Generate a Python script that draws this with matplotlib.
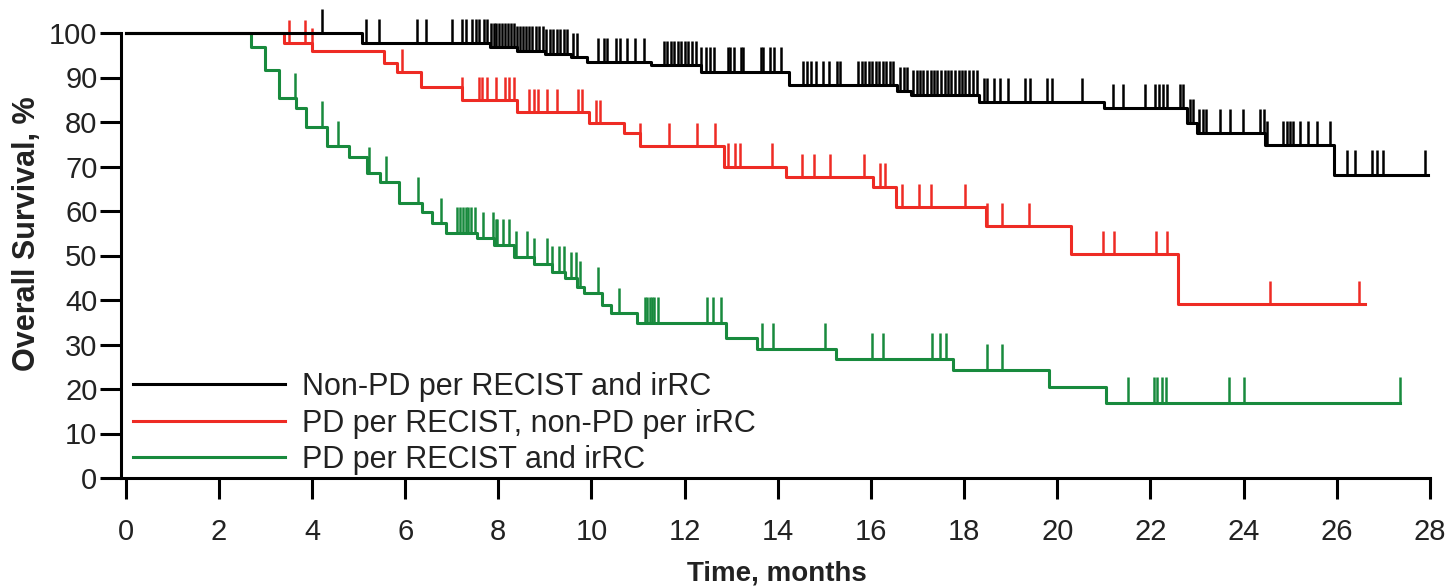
import numpy as np
import matplotlib.pyplot as plt

plt.rcParams['font.family'] = ['Liberation Sans', 'DejaVu Sans']

# ---- values ----
# event times (months) and survival (%) right after each event
black_t = [5.08, 7.83, 8.4, 9.0, 9.55, 9.91, 11.27, 12.34, 14.23, 16.56, 16.85,
           18.31, 21.0, 22.78, 23.0, 24.46, 25.93]
black_s = [97.7, 96.8, 96.0, 95.3, 94.5, 93.4, 92.8, 91.3, 88.3, 86.9, 86.1,
           84.5, 83.1, 79.7, 77.5, 74.8, 68.1]
black_end = 27.95
black_cens = [4.22, 5.15, 5.44, 6.26, 6.44, 7.01, 7.22, 7.3, 7.44, 7.51, 7.58, 7.69, 7.76,
              7.85, 7.9, 7.95, 8.02, 8.08, 8.15, 8.2, 8.27, 8.33, 8.4, 8.46, 8.52, 8.6,
              8.66, 8.72, 8.8, 8.88, 8.95, 9.02, 9.1, 9.18, 9.25, 9.32, 9.4, 9.48, 9.6,
              9.68, 10.15, 10.26, 10.34, 10.52, 10.62, 10.77, 10.94, 11.12,
              11.55, 11.62, 11.7, 11.78, 11.85, 11.92, 12.0, 12.08, 12.15, 12.25, 12.35,
              12.45, 12.55, 12.62, 12.92, 12.98, 13.05, 13.2, 13.26, 13.63, 13.69,
              13.84, 13.92, 14.06, 14.53, 14.62, 14.72, 14.81, 14.98, 15.09, 15.27, 15.34,
              15.73, 15.8, 15.88, 15.95, 16.02, 16.1, 16.18, 16.25, 16.32, 16.4, 16.48,
              16.63, 16.7, 16.78, 16.9, 16.98, 17.05, 17.12, 17.2, 17.28, 17.35, 17.42,
              17.5, 17.58, 17.65, 17.72, 17.8, 17.88, 17.95, 18.02, 18.1, 18.18, 18.27,
              18.42, 18.5, 18.63, 18.78, 18.95, 19.31, 19.42, 19.78, 19.89, 20.53,
              21.2, 21.42, 21.89, 22.1, 22.18, 22.26, 22.35, 22.64, 22.7,
              22.85, 22.92, 23.05, 23.12, 23.2, 23.5, 23.71, 23.99, 24.36, 24.43, 24.5,
              24.85, 24.92, 25.0, 25.06, 25.21, 25.39, 25.57, 25.86,
              26.22, 26.39, 26.75, 26.86, 27.0, 27.9]

red_t = [3.4, 4.0, 5.54, 5.83, 6.33, 7.22, 8.4, 9.94, 10.69, 11.05, 12.85, 14.18,
         16.05, 16.54, 18.46, 20.29, 22.6]
red_s = [97.7, 96.0, 93.2, 91.3, 87.8, 84.9, 82.3, 79.7, 77.5, 74.5, 70.0, 67.6,
         65.5, 60.8, 56.6, 50.3, 39.0]
red_end = 26.6
red_cens = [3.5, 3.86, 4.0, 5.94, 7.22, 7.58, 7.65, 7.76, 7.94, 8.15, 8.23, 8.33, 8.65,
            8.76, 8.86, 9.05, 9.27, 9.7, 9.8, 10.09, 10.19, 11.05, 11.66, 12.26, 12.65,
            12.94, 13.09, 13.18, 13.88, 14.52, 14.77, 15.11, 15.85, 16.2, 16.29, 16.66,
            17.03, 17.28, 18.02, 18.49, 18.81, 19.4, 20.97, 21.22, 22.11, 22.35, 24.57,
            26.47]

green_t = [2.68, 3.0, 3.29, 3.65, 3.88, 4.33, 4.79, 5.19, 5.47, 5.86, 6.37, 6.58, 6.87,
           7.55, 7.9, 8.33, 8.76, 9.16, 9.44, 9.69, 9.83, 10.23, 10.41, 10.98, 12.88,
           13.56, 15.24, 17.77, 19.82, 21.05]
green_s = [96.9, 91.7, 85.3, 83.1, 78.9, 74.5, 72.2, 68.6, 66.6, 61.8, 59.8, 57.2, 55.0,
           53.9, 52.4, 49.7, 48.2, 46.4, 44.9, 43.0, 41.6, 38.9, 37.0, 34.8, 31.4,
           29.1, 26.7, 24.3, 20.4, 16.9]
green_end = 27.36
green_cens = [3.63, 4.22, 4.55, 5.22, 5.58, 6.28, 6.77, 7.12, 7.18, 7.25, 7.3, 7.35, 7.42,
              7.5, 7.68, 7.88, 7.95, 7.98, 8.11, 8.22, 8.37, 8.62, 8.76, 9.05, 9.16, 9.3,
              9.41, 9.55, 9.66, 9.76, 10.15, 10.58, 11.15, 11.2, 11.25, 11.3, 11.35,
              11.42, 12.49, 12.6, 12.77, 13.67, 13.9, 15.02, 16.03, 16.25, 17.32, 17.49,
              17.6, 18.5, 18.81, 21.52, 22.08, 22.15, 22.25, 22.34, 23.69, 24.0, 27.36]

labels = ['Non-PD per RECIST and irRC', 'PD per RECIST, non-PD per irRC',
          'PD per RECIST and irRC']
colors = ['#000000', '#ee2b24', '#188a3d']
x_ticks = list(range(0, 29, 2))
y_ticks = list(range(0, 101, 10))

fig = plt.figure(figsize=(14.53, 5.87), dpi=100)
ax = fig.add_axes([121 / 1453, 109 / 587, 1309 / 1453, 445 / 587])


def km_line(t, s, end, cens, color, label, tick_h):
    t = np.asarray(t)
    s = np.asarray(s)
    xs = np.r_[0, t, end]
    ys = np.r_[100, s, s[-1]]
    ax.step(xs, ys, where='post', color=color, lw=2.2, label=label, clip_on=False)
    lev = np.r_[100, s]
    cy = lev[np.searchsorted(t, cens, side='right')]
    ax.vlines(cens, cy, cy + tick_h, color=color, lw=1.8, clip_on=False)


km_line(green_t, green_s, green_end, green_cens, colors[2], labels[2], 5.8)
km_line(red_t, red_s, red_end, red_cens, colors[1], labels[1], 5.2)
km_line(black_t, black_s, black_end, black_cens, colors[0], labels[0], 5.5)

ax.set_xlim(-0.1, 28)
ax.set_ylim(0, 100)
ax.set_xticks(x_ticks)
ax.set_yticks(y_ticks)
for side in ['top', 'right']:
    ax.spines[side].set_visible(False)
for side in ['left', 'bottom']:
    ax.spines[side].set_linewidth(2.2)
ax.tick_params(direction='out', length=15, width=2.2, labelsize=21, colors='#000000',
               labelcolor='#222222')
ax.tick_params(axis='x', pad=14)
ax.tick_params(axis='y', pad=2)

ax.set_ylabel('Overall Survival, %', fontsize=22, fontweight='bold', color='#222222')
ax.yaxis.set_label_coords(-0.060, 0.55)
ax.set_xlabel('Time, months', fontsize=20, fontweight='bold', color='#222222')
ax.xaxis.set_label_coords(0.501, -0.185)

handles, labs = ax.get_legend_handles_labels()
order = [2, 1, 0]
leg = ax.legend([handles[i] for i in order], [labs[i] for i in order],
                loc='upper left', bbox_to_anchor=(0.0092, 0.238), frameon=False,
                fontsize=22, handlelength=4.97, handletextpad=0.56, labelspacing=0.21,
                borderpad=0, borderaxespad=0)
for txt in leg.get_texts():
    txt.set_color('#222222')

fig.savefig('out.png', dpi=100)
